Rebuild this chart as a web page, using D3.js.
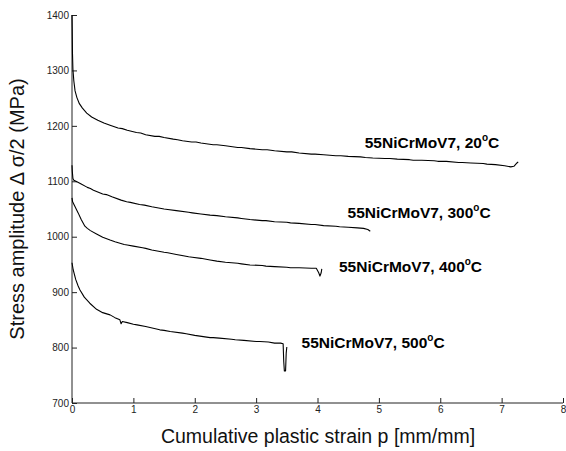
<!DOCTYPE html>
<html><head><meta charset="utf-8">
<script src="https://cdn.jsdelivr.net/npm/d3@7"></script>
<style>body{margin:0;background:#fff}svg{display:block}text{font-family:"Liberation Sans",Arial,sans-serif}</style>
</head><body>
<script>
const xTicks=[0,1,2,3,4,5,6,7,8];
const yTicks=[700,800,900,1000,1100,1200,1300,1400];
const s20=[[0,1400],[0.003,1378],[0.008,1330],[0.015,1302],[0.03,1281],[0.05,1263],[0.08,1251],[0.12,1240],[0.17,1232],[0.24,1223],[0.32,1216],[0.42,1210],[0.52,1205],[0.62,1201],[0.75,1196],[0.82,1195],[0.9,1192],[1.05,1188],[1.12,1187],[1.2,1184],[1.35,1181],[1.42,1181],[1.5,1179],[1.65,1176],[1.72,1175],[1.8,1173],[1.95,1171],[2.02,1171],[2.1,1169],[2.3,1166],[2.36,1166],[2.5,1164],[2.7,1161],[2.76,1161],[2.9,1159],[3.1,1157],[3.18,1157],[3.3,1155],[3.5,1153],[3.58,1153],[3.7,1151],[3.9,1149],[3.96,1149],[4.1,1148],[4.3,1146],[4.38,1146],[4.5,1145],[4.7,1144],[4.78,1143],[4.9,1142],[5.1,1141],[5.18,1141],[5.3,1140],[5.5,1139],[5.56,1138],[5.7,1138],[5.9,1137],[5.96,1136],[6.1,1136],[6.3,1134],[6.36,1134],[6.5,1133],[6.7,1132],[6.76,1131],[6.9,1130],[7.05,1128],[7.15,1126],[7.2,1127],[7.25,1133],[7.27,1135]];
const s300=[[0,1129],[0.005,1118],[0.015,1105],[0.03,1102],[0.08,1099],[0.15,1095],[0.25,1089],[0.3,1087],[0.35,1084],[0.5,1077],[0.56,1076],[0.65,1072],[0.8,1066],[0.89,1063],[0.95,1062],[1.1,1058],[1.18,1057],[1.3,1054],[1.5,1050],[1.56,1049],[1.7,1047],[1.9,1044],[1.96,1043],[2.1,1041],[2.25,1039],[2.36,1038],[2.5,1036],[2.7,1034],[2.76,1033],[2.9,1031],[3.1,1029],[3.16,1029],[3.3,1027],[3.5,1026],[3.56,1025],[3.7,1024],[3.9,1022],[3.96,1022],[4.1,1020],[4.3,1019],[4.36,1018],[4.5,1017],[4.65,1016],[4.75,1015],[4.82,1013],[4.86,1010]];
const s400=[[0,1070],[0.01,1063],[0.05,1054],[0.1,1043],[0.15,1031],[0.21,1019],[0.25,1015],[0.3,1011],[0.4,1005],[0.5,999],[0.62,994],[0.7,991],[0.85,986],[0.9,985],[1.0,983],[1.15,980],[1.2,979],[1.3,976],[1.5,972],[1.56,971],[1.7,968],[1.9,964],[1.96,963],[2.1,961],[2.25,958],[2.36,956],[2.5,954],[2.7,952],[2.76,951],[2.9,949],[3.1,948],[3.16,947],[3.3,946],[3.5,945],[3.56,944],[3.7,944],[3.9,943],[3.98,943],[4.02,935],[4.04,929],[4.06,935],[4.07,942]];
const s500=[[0,953],[0.02,940],[0.06,923],[0.1,911],[0.13,904],[0.2,891],[0.29,880],[0.4,869],[0.5,863],[0.62,859],[0.7,854],[0.78,850],[0.8,843],[0.82,847],[0.9,845],[1.0,842],[1.06,841],[1.2,838],[1.43,832],[1.5,831],[1.6,829],[1.8,826],[1.86,825],[2.0,822],[2.25,818],[2.3,818],[2.4,817],[2.6,815],[2.66,814],[2.8,813],[3.0,811],[3.06,811],[3.2,810],[3.3,808],[3.4,808],[3.44,807],[3.45,775],[3.46,758],[3.48,758],[3.49,790],[3.5,801]];
const seriesNames=["55NiCrMoV7, 20","55NiCrMoV7, 300","55NiCrMoV7, 400","55NiCrMoV7, 500"];
const labelX=[4.77,4.49,4.35,3.74];
const labelY=[1160,1034,936,799];
const allSeries=[s20,s300,s400,s500];

const W=566,H=451;
const svg=d3.select("body").append("svg").attr("width",W).attr("height",H);
const x=d3.scaleLinear().domain([0,8]).range([72,563]);
const y=d3.scaleLinear().domain([700,1400]).range([403,15]);

const gx=svg.append("g").attr("transform","translate(0,403)")
  .call(d3.axisBottom(x).tickValues(xTicks).tickSize(-5).tickPadding(3).tickFormat(d3.format("d")));
const gy=svg.append("g").attr("transform","translate(72,0)")
  .call(d3.axisLeft(y).tickValues(yTicks).tickSize(-5).tickPadding(3).tickFormat(d3.format("d")));
[gx,gy].forEach(g=>{g.selectAll("path,line").attr("stroke","#222");g.selectAll("text").attr("font-size","10px").attr("fill","#222").attr("font-family","Liberation Sans, Arial, sans-serif");});
gx.select(".domain").attr("d","M72,0H563");
gy.select(".domain").attr("d","M0,403V15");
gx.selectAll("text").attr("dy","0.71em").attr("y",3);

const line=d3.line().x(d=>x(d[0])).y(d=>y(d[1]));
allSeries.forEach(s=>svg.append("path").datum(s).attr("d",line).attr("fill","none").attr("stroke","#000").attr("stroke-width",1.1).attr("stroke-linejoin","round"));

seriesNames.forEach((n,i)=>{
  const t=svg.append("text").attr("x",x(labelX[i])).attr("y",y(labelY[i])).attr("font-size","15.5px").attr("font-weight","bold");
  t.append("tspan").text(n);
  t.append("tspan").attr("font-size","10px").attr("dy",-7).text("o");
  t.append("tspan").attr("dy",7).text("C");
});

svg.append("text").attr("x",318).attr("y",443).attr("text-anchor","middle").attr("font-size","19.5px").attr("fill","#111").text("Cumulative plastic strain p [mm/mm]");
svg.append("text").attr("transform","translate(24,209) rotate(-90)").attr("text-anchor","middle").attr("font-size","20px").attr("fill","#111").text("Stress amplitude \u0394 \u03c3/2 (MPa)");
</script>
</body></html>
